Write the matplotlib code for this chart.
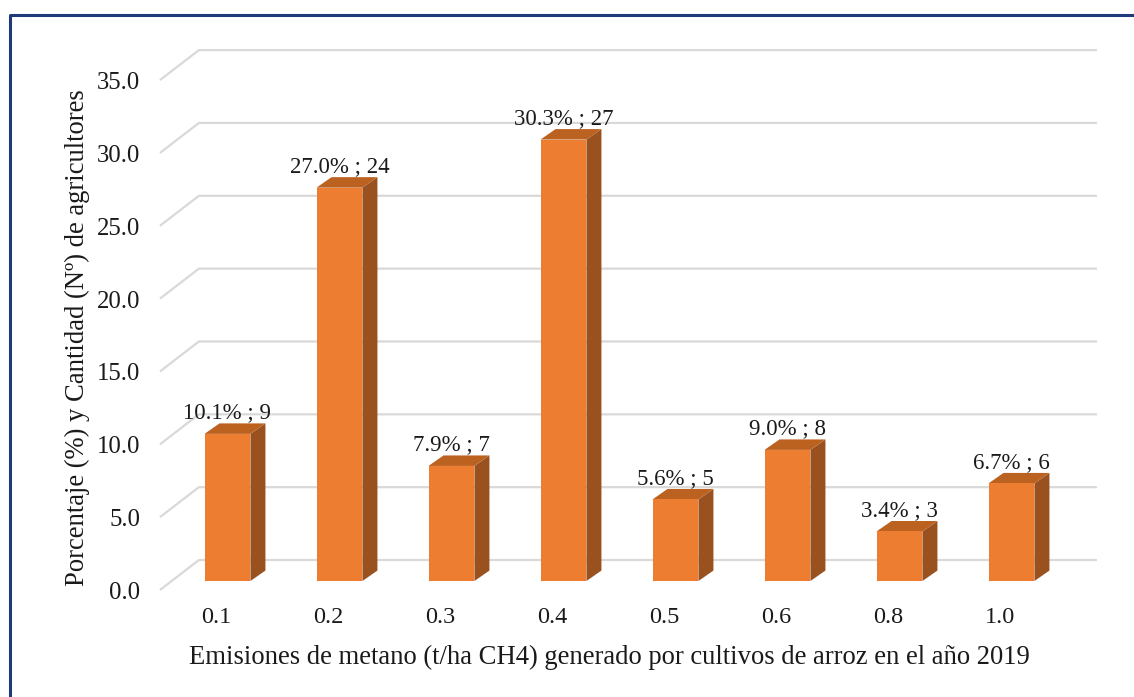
"""
Emisiones de metano por cultivo de arroz - columnas 3D estilo Excel
"""

import matplotlib
matplotlib.use('Agg')
import matplotlib.pyplot as plt
from matplotlib.patches import Polygon
from matplotlib.lines import Line2D

# datos
categorias = ['0.1', '0.2', '0.3', '0.4', '0.5', '0.6', '0.8', '1.0']
porcentaje = [10.1, 27.0, 7.9, 30.3, 5.6, 9.0, 3.4, 6.7]
agricultores = [9, 24, 7, 27, 5, 8, 3, 6]
ticks_y = [0.0, 5.0, 10.0, 15.0, 20.0, 25.0, 30.0, 35.0]

# colores
C_FRENTE = '#ED7D31'
C_TAPA = '#BC6221'
C_LADO = '#9A5120'
C_GRID = '#D9D9D9'
C_MARCO = '#1F3A7A'

plt.rcParams['font.family'] = ['Liberation Serif', 'DejaVu Serif']

fig = plt.figure(figsize=(11.34, 6.97), dpi=100)
ax = fig.add_axes([0, 0, 1, 1])
ax.set_xlim(-2.031, 8.094)
ax.set_ylim(-7.96, 39.88)
ax.axis('off')

# profundidad de la pared y de las columnas (en unidades de datos)
pared_dx, pared_dy = 0.348, 2.06
frente_y = -0.618
x_izq, x_der = -0.603, 7.763
bar_w = 0.41
bar_dx, bar_dy = 0.134, 0.72

# lineas de cuadricula: diagonal del piso + horizontal de la pared
for v in ticks_y:
    xs = [x_izq, x_izq + pared_dx, x_der]
    ys = [v + frente_y, v + frente_y + pared_dy, v + frente_y + pared_dy]
    ax.plot(xs, ys, color=C_GRID, lw=1.6, zorder=1, solid_capstyle='butt')
    ax.text(-0.78, v + frente_y - 0.2, f'{v:.1f}', ha='right', va='center',
            fontsize=17.8, color='#1a1a1a')

# columnas
for i, (p, n) in enumerate(zip(porcentaje, agricultores)):
    x0, x1 = i - bar_w / 2, i + bar_w / 2
    lado = [(x1, 0), (x1 + bar_dx, bar_dy), (x1 + bar_dx, p + bar_dy), (x1, p)]
    tapa = [(x0, p), (x1, p), (x1 + bar_dx, p + bar_dy), (x0 + bar_dx, p + bar_dy)]
    frente = [(x0, 0), (x1, 0), (x1, p), (x0, p)]
    ax.add_patch(Polygon(lado, closed=True, fc=C_LADO, ec='none', zorder=3))
    ax.add_patch(Polygon(tapa, closed=True, fc=C_TAPA, ec='none', zorder=3))
    ax.add_patch(Polygon(frente, closed=True, fc=C_FRENTE, ec='none', zorder=4))
    ax.text(i, p + bar_dy + 0.35, f'{p:.1f}% ; {n}', ha='center', va='baseline',
            fontsize=16.5, color='#1a1a1a', zorder=5)
    ax.text(i - 0.1, -2.47, categorias[i], ha='center', va='center',
            fontsize=17.5, color='#1a1a1a')

ax.text(3.406, -5.70,
        'Emisiones de metano (t/ha CH4) generado por cultivos de arroz en el año 2019',
        ha='center', va='baseline', fontsize=19.2, color='#1a1a1a')
ax.text(-1.344, 16.68, 'Porcentaje (%) y Cantidad (Nº) de agricultores',
        ha='center', va='center', rotation=90, fontsize=19.2, color='#1a1a1a')

# marco exterior
xm, ym = 10 / 1134, 1 - 15 / 697
fig.add_artist(Line2D([xm, xm, 1.01], [-0.01, ym, ym], transform=fig.transFigure,
                      color=C_MARCO, lw=2.2))

fig.savefig('out.png', dpi=100)
